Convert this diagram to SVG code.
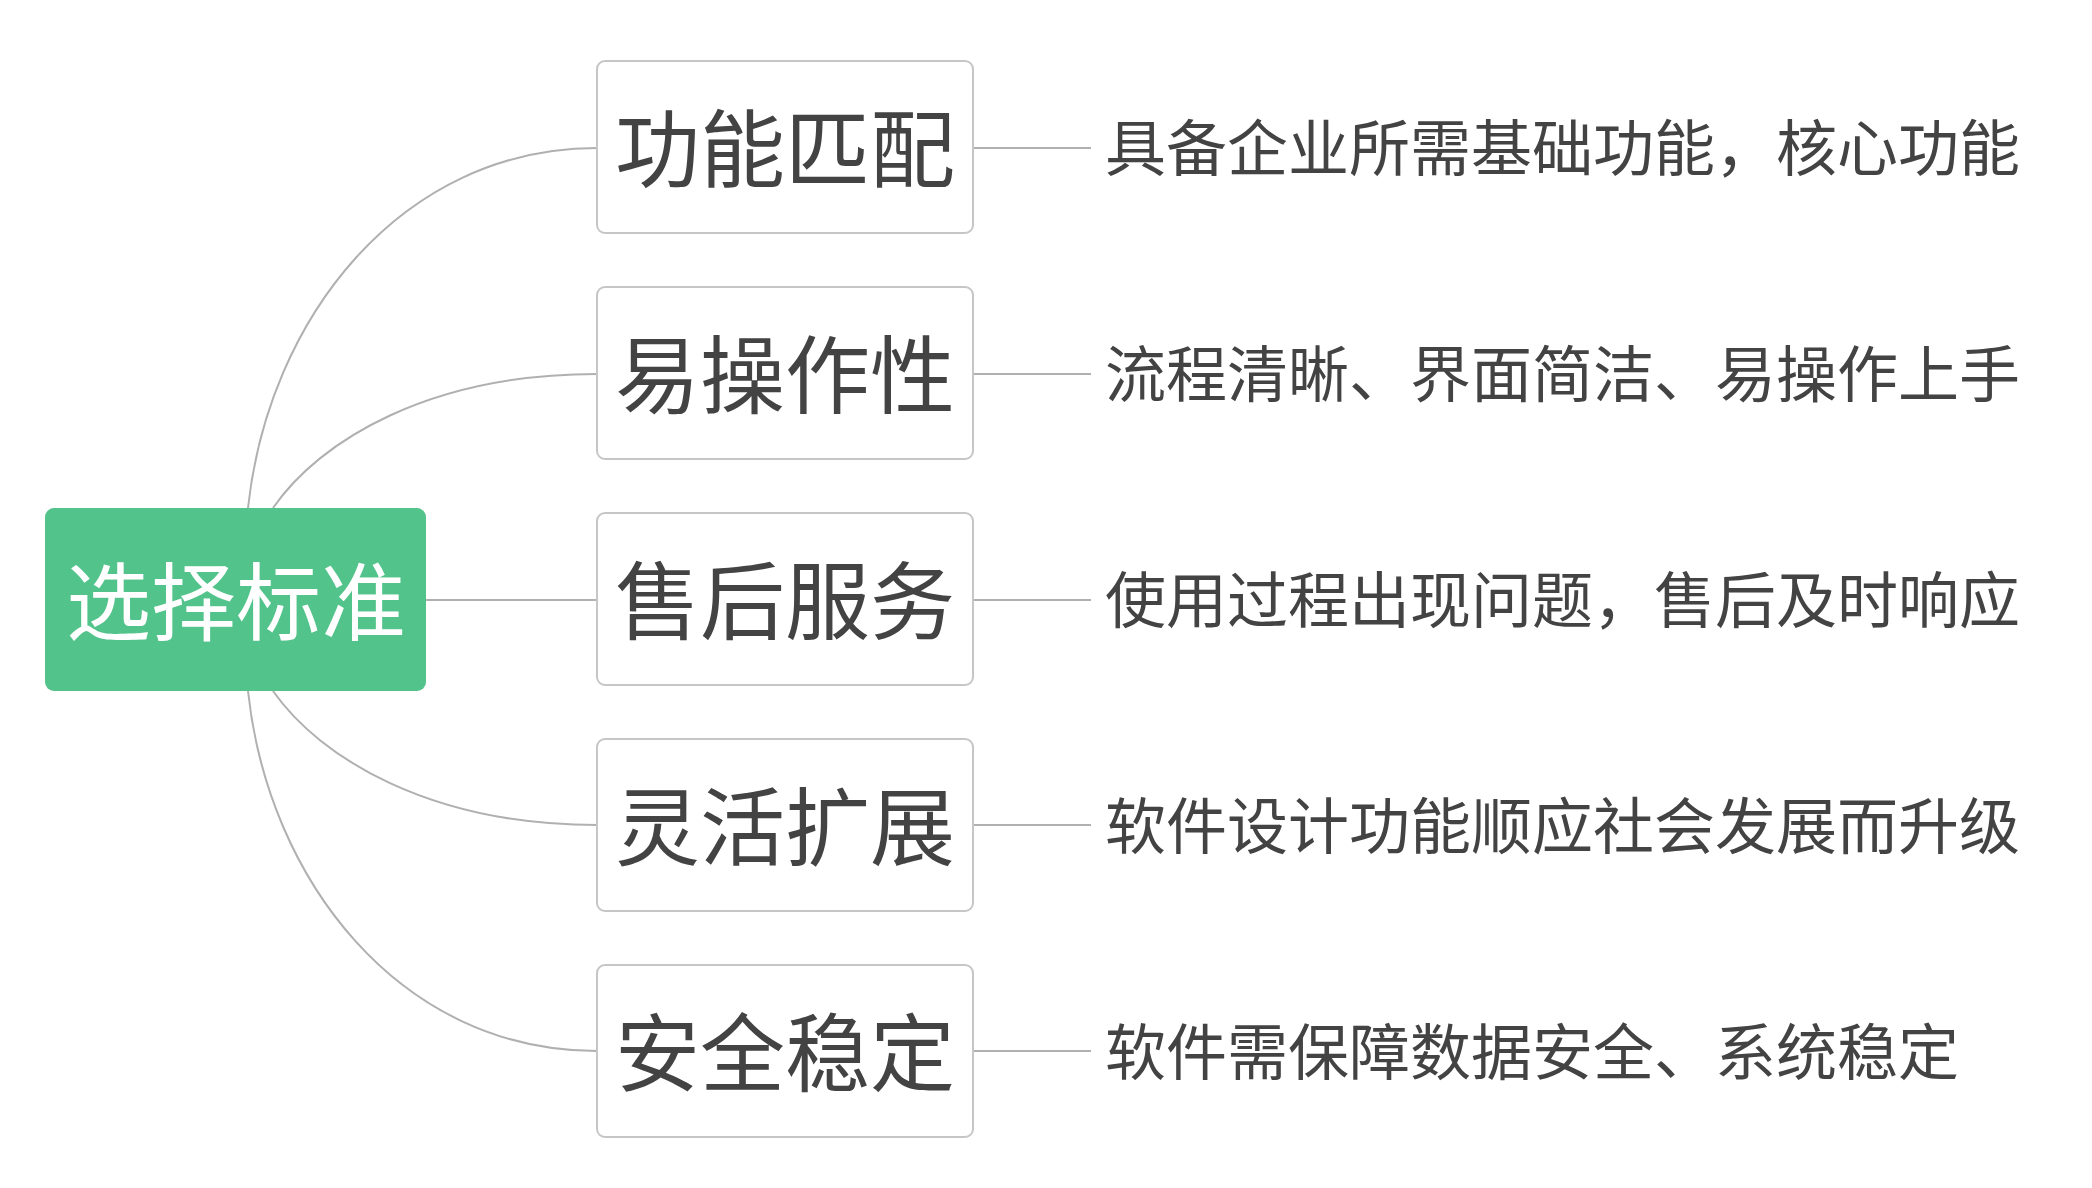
<svg xmlns="http://www.w3.org/2000/svg" width="2092" height="1188" viewBox="0 0 2092 1188">
<style>
.conn{fill:none;stroke:#b0b0b0;stroke-width:2}
.box{fill:#fff;stroke:#c6c6c6;stroke-width:2}
.bt{font-family:"Noto Sans CJK SC","Noto Sans",sans-serif;font-size:85px;fill:#434343;text-anchor:middle;dominant-baseline:central}
.dt{font-family:"Noto Sans CJK SC","Noto Sans",sans-serif;font-size:61px;fill:#434343;dominant-baseline:central}
.rt{font-family:"Noto Sans CJK SC","Noto Sans",sans-serif;font-size:85px;fill:#fff;text-anchor:middle;dominant-baseline:central}
</style>
<rect width="2092" height="1188" fill="#fff"/>
<g id="connectors">
<path class="conn" d="M248,508 C268,320 400,148 597,148"/>
<path class="conn" d="M273,508 C320,440 430,374 597,374"/>
<path class="conn" d="M426,600 L597,600"/>
<path class="conn" d="M273,691 C320,758 430,825 597,825"/>
<path class="conn" d="M248,691 C268,880 400,1051 597,1051"/>
<path class="conn" d="M973,148 L1091,148"/>
<path class="conn" d="M973,374 L1091,374"/>
<path class="conn" d="M973,600 L1091,600"/>
<path class="conn" d="M973,825 L1091,825"/>
<path class="conn" d="M973,1051 L1091,1051"/>
</g>
<g id="root">
<rect x="45" y="508" width="381" height="183" rx="9" fill="#52c48b"/>
<text class="rt" x="236" y="596">选择标准</text>
</g>
<g id="node1">
<rect class="box" x="597" y="61" width="376" height="172" rx="8"/>
<text class="bt" x="785" y="143">功能匹配</text>
</g>
<g id="node2">
<rect class="box" x="597" y="287" width="376" height="172" rx="8"/>
<text class="bt" x="785" y="369">易操作性</text>
</g>
<g id="node3">
<rect class="box" x="597" y="513" width="376" height="172" rx="8"/>
<text class="bt" x="785" y="595">售后服务</text>
</g>
<g id="node4">
<rect class="box" x="597" y="739" width="376" height="172" rx="8"/>
<text class="bt" x="785" y="821">灵活扩展</text>
</g>
<g id="node5">
<rect class="box" x="597" y="965" width="376" height="172" rx="8"/>
<text class="bt" x="785" y="1047">安全稳定</text>
</g>
<g id="desc1"><text class="dt" x="1105" y="144">具备企业所需基础功能，核心功能</text></g>
<g id="desc2"><text class="dt" x="1105" y="370">流程清晰、界面简洁、易操作上手</text></g>
<g id="desc3"><text class="dt" x="1105" y="596">使用过程出现问题，售后及时响应</text></g>
<g id="desc4"><text class="dt" x="1105" y="822">软件设计功能顺应社会发展而升级</text></g>
<g id="desc5"><text class="dt" x="1105" y="1048">软件需保障数据安全、系统稳定</text></g>
</svg>
